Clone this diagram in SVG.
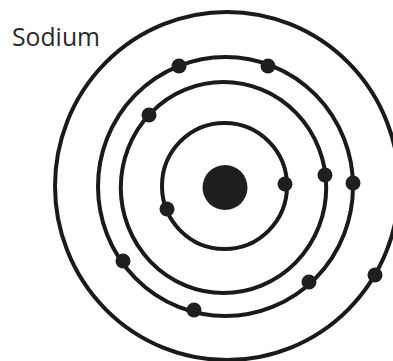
<svg xmlns="http://www.w3.org/2000/svg" width="393" height="361" viewBox="0 0 393 361">
<style>
.ring{fill:none;stroke:#1a1a1a;stroke-width:4}
.e{fill:#1f1f1f}
.lbl{font-family:"Open Sans","Liberation Sans",sans-serif;font-size:25px;fill:#2a2a2a}
</style>
<rect width="393" height="361" fill="#ffffff"/>
<g id="label"><text class="lbl" x="12" y="46" textLength="88" lengthAdjust="spacingAndGlyphs">Sodium</text></g>
<g id="shell4"><ellipse class="ring" cx="227" cy="186" rx="172" ry="174"/>
<circle class="e" cx="375" cy="275" r="7.5"/></g>
<g id="shell3"><ellipse class="ring" cx="225.5" cy="186.5" rx="127.5" ry="129.5"/>
<circle class="e" cx="179" cy="66" r="7.5"/>
<circle class="e" cx="268" cy="66" r="7.5"/>
<circle class="e" cx="353" cy="183" r="7.5"/>
<circle class="e" cx="309" cy="282" r="7.5"/>
<circle class="e" cx="194" cy="310" r="7.5"/>
<circle class="e" cx="123" cy="261" r="7.5"/></g>
<g id="shell2"><ellipse class="ring" cx="223.5" cy="187.5" rx="102.7" ry="105.5"/>
<circle class="e" cx="149" cy="115" r="7.5"/>
<circle class="e" cx="325" cy="175" r="7.5"/></g>
<g id="shell1"><ellipse class="ring" cx="224.5" cy="186" rx="62.5" ry="63"/>
<circle class="e" cx="285" cy="184" r="7.5"/>
<circle class="e" cx="167" cy="209" r="7.5"/></g>
<g id="nucleus"><circle class="e" cx="225" cy="187.5" r="22.5"/></g>
</svg>
